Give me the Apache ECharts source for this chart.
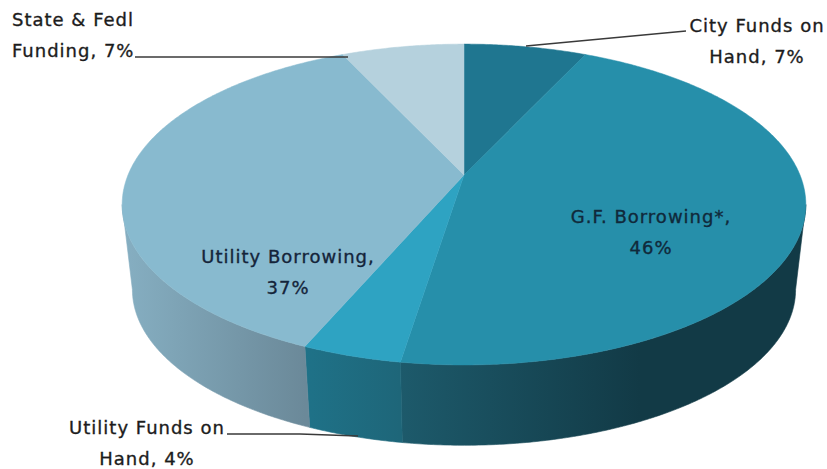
<!DOCTYPE html>
<html>
<head>
<meta charset="utf-8">
<title>Funding sources</title>
<script src="https://cdn.jsdelivr.net/npm/echarts@6/dist/echarts.min.js"></script>
<style>
  html, body { margin: 0; padding: 0; background: #fff; }
  #chart { width: 827px; height: 469px; }
  #chart svg text { letter-spacing: 1px; }
</style>
</head>
<body>
<div id="chart"></div>
<script>
// Funding shares, clockwise from twelve o'clock.
const categories = ['City Funds on\nHand', 'G.F. Borrowing*', 'Utility Funds on\nHand', 'Utility Borrowing', 'State & Fedl\nFunding'];
const shares = [7, 46, 4, 37, 7];
const labelJoins = [', ', ',\n', ', ', ',\n', ', '];

// Disc geometry: a circle seen in perspective, with the apex above the rim's centre.
const disc = { cx: 464, cy: 175, a: 336, b: 155, k: 0.184 };
const base = { scale: 0.97, cy: 261 };

const topColors = ['#1f7690', '#268faa', '#2ea3c2', '#88bacf', '#b5d1dd'];
const wallGradients = [
  [466, 806, '#1f7690', '#1f7690'],
  [400, 640, '#1d5a6b', '#123a46'],
  [305, 400, '#1f7288', '#1e6679'],
  [122, 305, '#86afc2', '#6b8999'],
  [122, 464, '#b5d1dd', '#b5d1dd']
];

const labelAnchors = [
  { x: 757, y: 41, align: 'center', fill: '#1c1c1c' },
  { x: 651, y: 232, align: 'center', fill: '#10293a' },
  { x: 147, y: 443, align: 'center', fill: '#1c1c1c' },
  { x: 288, y: 272, align: 'center', fill: '#14243a' },
  { x: 12, y: 35, align: 'left', fill: '#1c1c1c' }
];

const total = shares.reduce((sum, v) => sum + v, 0);

// Angles where the rim reaches its widest points; the wall is only seen between them.
const wallStart = Math.acos(-disc.k) * 180 / Math.PI;
const wallEnd = 360 - wallStart;

function sliceAngles(index) {
  let before = 0;
  for (let i = 0; i < index; i++) before += shares[i];
  return [before / total * 360, (before + shares[index]) / total * 360];
}

// Projects a rim point at the given clockwise angle onto the page.
function rimPoint(deg) {
  const t = deg * Math.PI / 180;
  const X = Math.sin(t), Y = Math.cos(t), d = 1 + disc.k * Y;
  return [disc.cx + disc.a * X / d, disc.cy - disc.b * Y / d];
}

function basePoint(deg) {
  const p = rimPoint(deg);
  return [disc.cx + base.scale * (p[0] - disc.cx), base.cy + base.scale * (p[1] - disc.cy)];
}

function arc(fn, from, to) {
  const pts = [];
  const steps = Math.max(2, Math.ceil((to - from) * 2));
  for (let i = 0; i <= steps; i++) pts.push(fn(from + (to - from) * i / steps));
  return pts;
}

function renderWall(params) {
  const i = params.dataIndex;
  const [start, stop] = sliceAngles(i);
  const from = Math.max(start, wallStart);
  const to = Math.min(stop, wallEnd);
  if (to <= from) return null;
  const g = wallGradients[i];
  const points = arc(rimPoint, from, to).concat(arc(basePoint, from, to).reverse());
  const paint = new echarts.graphic.LinearGradient(g[0], 0, g[1], 0,
    [{ offset: 0, color: g[2] }, { offset: 1, color: g[3] }], true);
  return {
    type: 'polygon',
    shape: { points },
    style: { fill: paint, stroke: paint, lineWidth: 0.6 }
  };
}

function renderTop(params) {
  const i = params.dataIndex;
  const [from, to] = sliceAngles(i);
  const points = [[disc.cx, disc.cy]].concat(arc(rimPoint, from, to));
  return {
    type: 'polygon',
    shape: { points },
    style: { fill: topColors[i], stroke: topColors[i], lineWidth: 0.5 }
  };
}

function renderLabel(params) {
  const i = params.dataIndex;
  const anchor = labelAnchors[i];
  return {
    type: 'text',
    x: anchor.x,
    y: anchor.y,
    style: {
      text: categories[i] + labelJoins[i] + shares[i] + '%',
      fill: anchor.fill,
      stroke: anchor.fill,
      lineWidth: 0.35,
      font: '18px "DejaVu Sans", sans-serif',
      lineHeight: 31,
      align: anchor.align,
      verticalAlign: 'middle'
    }
  };
}

const sliceData = categories.map((name, i) => ({ name, value: shares[i] }));

function customSeries(renderItem, z) {
  return { type: 'custom', coordinateSystem: 'none', renderItem, data: sliceData, z, silent: true, animation: false };
}

function leader(points) {
  return {
    type: 'polyline',
    shape: { points },
    style: { stroke: '#3a3a3a', lineWidth: 1.5, fill: null },
    z: 20
  };
}

const chart = echarts.init(document.getElementById('chart'), null, { renderer: 'svg' });
chart.setOption({
  backgroundColor: '#ffffff',
  animation: false,
  series: [customSeries(renderWall, 1), customSeries(renderTop, 2), customSeries(renderLabel, 3)],
  graphic: [
    leader([[135, 57], [348, 57]]),
    leader([[526, 46], [686, 31]]),
    leader([[227, 434], [300, 434], [358, 436]])
  ]
});
</script>
</body>
</html>
